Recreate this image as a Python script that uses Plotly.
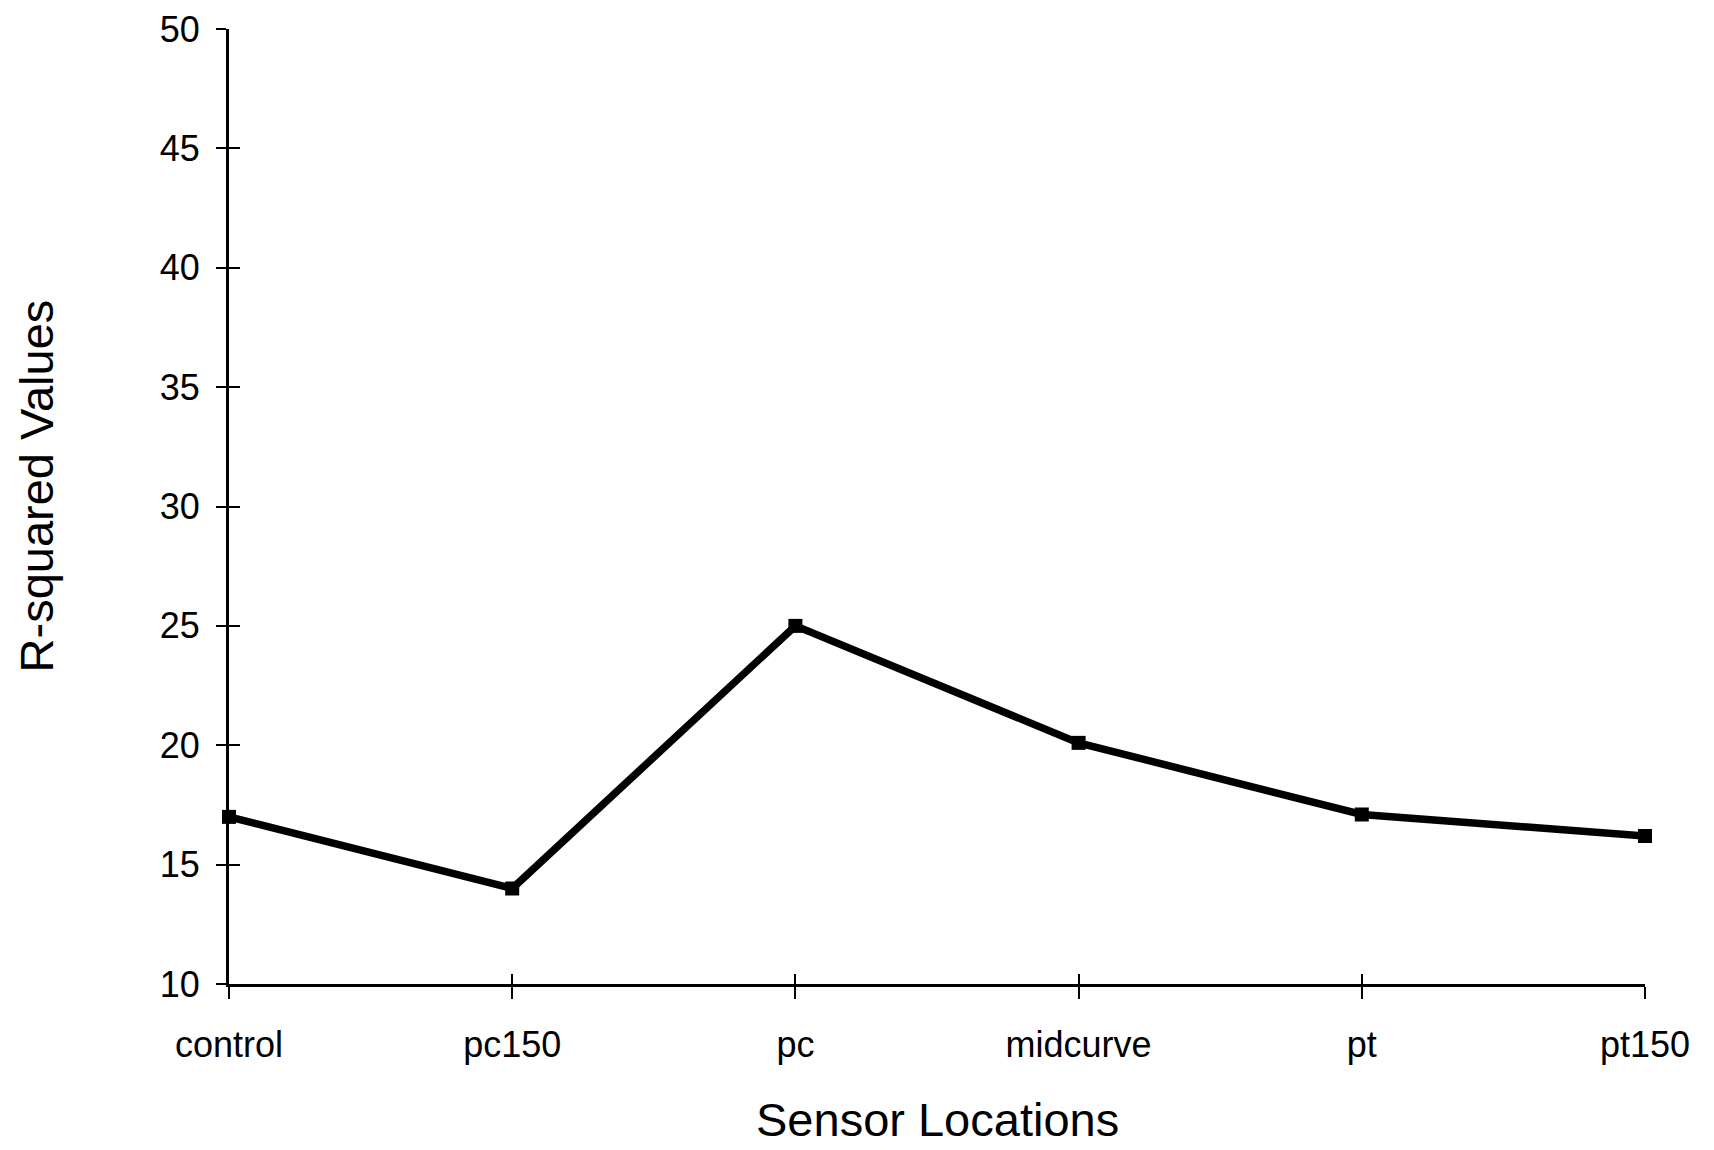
import plotly.graph_objects as go

categories = ["control", "pc150", "pc", "midcurve", "pt", "pt150"]
r_squared = [17.0, 14.0, 25.0, 20.1, 17.1, 16.2]
y_ticks = [10, 15, 20, 25, 30, 35, 40, 45, 50]
y_inner_ticks = [15, 20, 25, 30, 35, 40, 45]

FONT = "Liberation Sans, Arial, sans-serif"

fig = go.Figure()
fig.add_trace(go.Scatter(
    x=categories, y=r_squared, mode="lines+markers",
    line=dict(color="black", width=7.5),
    marker=dict(symbol="square", size=14, color="black"),
    cliponaxis=False, showlegend=False,
))
# invisible copy to carry the inside-tick overlay axes
fig.add_trace(go.Scatter(
    x=categories, y=r_squared, mode="lines", opacity=0,
    xaxis="x2", yaxis="y2", showlegend=False, hoverinfo="skip",
))

fig.update_layout(
    width=1714, height=1150,
    margin=dict(l=221, r=77, t=21, b=174, autoexpand=False),
    paper_bgcolor="white", plot_bgcolor="white",
    font=dict(family=FONT, color="black"),
    xaxis=dict(
        type="category", categoryorder="array", categoryarray=categories,
        range=[0, 5], showgrid=False, zeroline=False, automargin=False,
        showline=True, linecolor="black", linewidth=3,
        ticks="outside", ticklen=12, tickwidth=2, tickcolor="black",
        tickfont=dict(size=36, family=FONT), ticklabelstandoff=15,
        ticklabeloverflow="allow",
    ),
    xaxis2=dict(
        type="category", categoryorder="array", categoryarray=categories,
        range=[0, 5], overlaying="x", showgrid=False, zeroline=False,
        showline=False, ticks="inside", ticklen=10, tickwidth=2,
        tickcolor="black", showticklabels=False,
    ),
    yaxis=dict(
        range=[10, 50], tickvals=y_ticks, showgrid=False, zeroline=False,
        automargin=False,
        showline=True, linecolor="black", linewidth=3,
        ticks="outside", ticklen=10, tickwidth=2, tickcolor="black",
        tickfont=dict(size=36, family=FONT), ticklabelstandoff=9,
        ticklabeloverflow="allow",
    ),
    yaxis2=dict(
        range=[10, 50], tickvals=y_inner_ticks, overlaying="y",
        showgrid=False, zeroline=False, showline=False,
        ticks="inside", ticklen=11, tickwidth=2, tickcolor="black",
        showticklabels=False,
    ),
    annotations=[
        dict(text="R-squared Values", xref="paper", yref="paper",
             x=0, y=0.521, xanchor="center", yanchor="middle",
             xshift=-193, textangle=-90, showarrow=False,
             font=dict(size=47, family=FONT, color="black")),
        dict(text="Sensor Locations", xref="paper", yref="paper",
             x=0.5, y=0, xanchor="center", yanchor="middle",
             yshift=-135, showarrow=False,
             font=dict(size=47, family=FONT, color="black")),
    ],
)

fig.write_html("out.html")
